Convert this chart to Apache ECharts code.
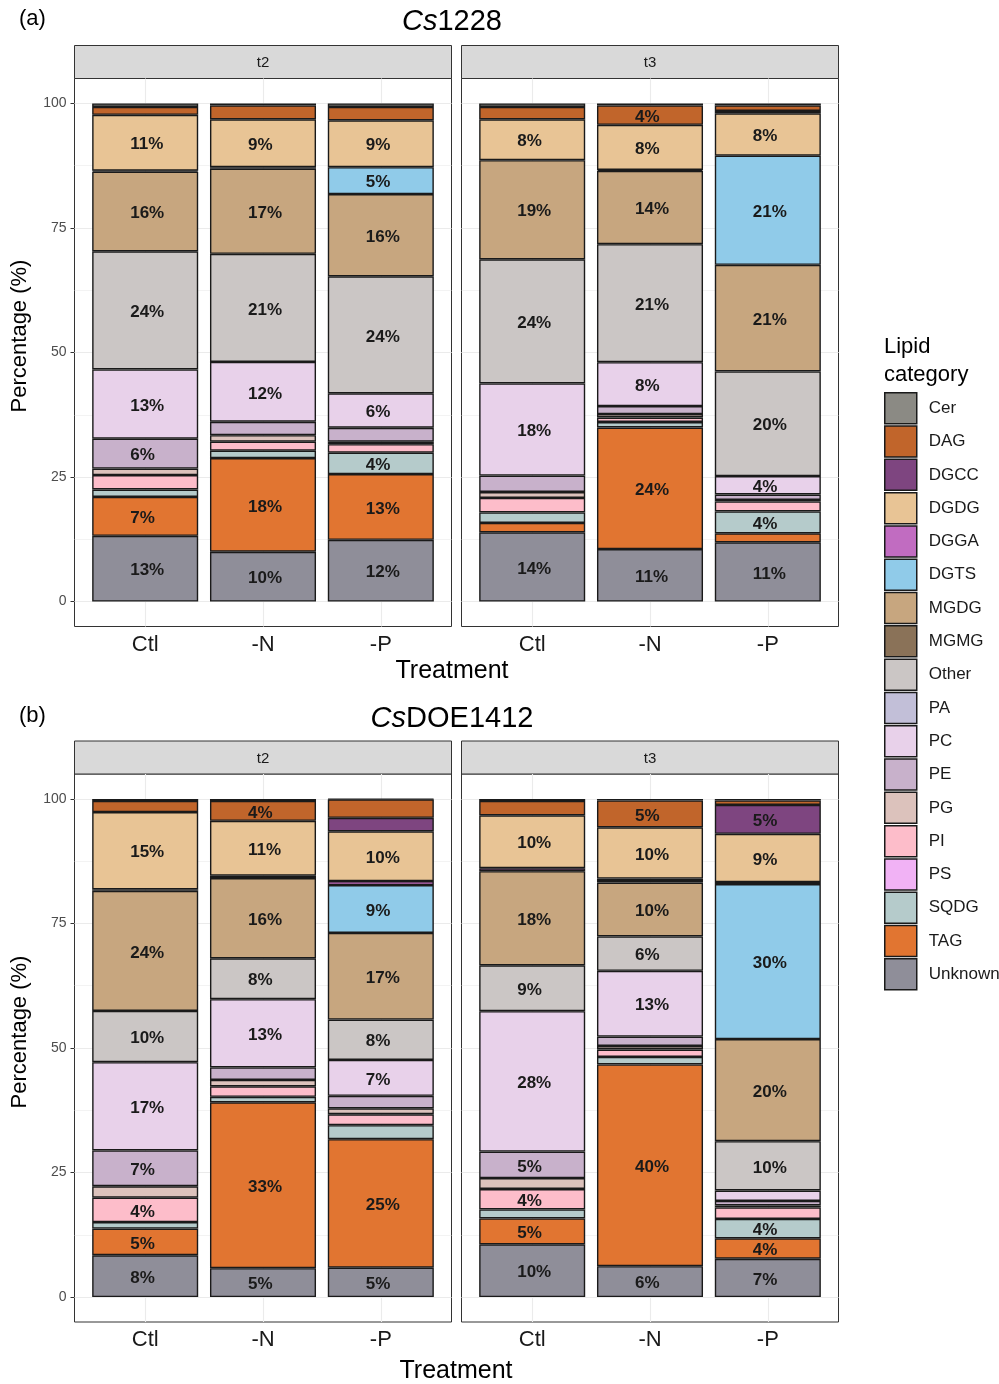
<!DOCTYPE html>
<html><head><meta charset="utf-8">
<script src="https://cdn.jsdelivr.net/npm/echarts@6/dist/echarts.min.js"></script>
<style>html,body{margin:0;padding:0;background:#fff}#c{width:999px;height:1384px}</style>
</head><body><div id="c"></div>
<script>
// ---------------- data ----------------
const categories = ['Cer','DAG','DGCC','DGDG','DGGA','DGTS','MGDG','MGMG','Other','PA','PC','PE','PG','PI','PS','SQDG','TAG','Unknown'];
const catColors = ['#8b8a84','#c1652b','#7e4580','#e8c495','#c16cc1','#90cbe9','#c7a67f','#8a7258','#cbc6c5','#c2bfd8','#e8d1ea','#c8b1cb','#dcc2bc','#fdbdca','#f1b2f5','#b5cbcb','#e17531','#8f8e99'];
const treatments = ['Ctl','-N','-P'];
const yTicks = [0, 25, 50, 75, 100];
const yMinor = [12.5, 37.5, 62.5, 87.5];

// values (%) in category order: Cer, DAG, DGCC, DGDG, DGGA, DGTS, MGDG, MGMG, Other, PA, PC, PE, PG, PI, PS, SQDG, TAG, Unknown
const cs1228_t2_Ctl = [0.7, 1.6, 0, 11.2, 0, 0.2, 16.0, 0, 23.7, 0, 13.9, 6.0, 1.3, 2.9, 0, 1.5, 7.8, 13.2];
const cs1228_t2_N   = [0.4, 2.8, 0, 9.6, 0, 0.3, 17.1, 0, 21.7, 0, 12.0, 2.7, 1.3, 1.8, 0, 1.5, 18.8, 10.0];
const cs1228_t2_P   = [0.7, 2.7, 0, 9.4, 0, 5.4, 16.5, 0, 23.5, 0, 6.9, 2.8, 0.5, 1.7, 0, 4.3, 13.2, 12.4];
const cs1228_t3_Ctl = [0.7, 2.5, 0, 8.2, 0, 0, 19.9, 0, 24.9, 0, 18.5, 3.3, 1.2, 2.9, 0, 2.1, 1.9, 13.9];
const cs1228_t3_N   = [0.4, 3.9, 0, 9.05, 0, 0.2, 14.7, 0, 23.7, 0, 8.8, 1.6, 0.7, 0.9, 0, 1.1, 24.4, 10.55];
const cs1228_t3_P   = [0.4, 1.1, 0.5, 8.5, 0, 21.9, 21.4, 0, 21.0, 0, 3.7, 1.1, 0.3, 2.0, 0, 4.4, 1.8, 11.9];
const doe_t2_Ctl = [0.4, 2.25, 0, 15.5, 0, 0.3, 24.1, 0, 10.3, 0, 17.7, 7.2, 2.3, 4.9, 0, 1.3, 5.35, 8.4];
const doe_t2_N   = [0.4, 4.0, 0, 11.0, 0, 0.5, 16.1, 0, 8.2, 0, 13.7, 2.5, 1.3, 2.1, 0, 1.1, 33.3, 5.8];
const doe_t2_P   = [0.1, 3.7, 2.7, 10.0, 0.8, 9.6, 17.4, 0, 8.1, 0, 7.2, 2.5, 1.2, 2.2, 0, 2.8, 25.8, 5.9];
const doe_t3_Ctl = [0.4, 2.9, 0, 10.6, 0.6, 0, 18.9, 0, 9.2, 0, 28.2, 5.3, 2.2, 4.1, 0, 1.8, 5.2, 10.6];
const doe_t3_N   = [0.3, 5.4, 0, 10.3, 0.3, 0.5, 10.8, 0, 6.9, 0, 13.2, 1.9, 0.7, 1.5, 0, 1.5, 40.5, 6.2];
const doe_t3_P   = [0.3, 0.9, 5.8, 9.7, 0.4, 31.1, 20.5, 0, 9.9, 0, 2.1, 0.9, 0.4, 2.3, 0, 3.9, 4.1, 7.7];

// printed segment labels (%), as shown in the figure
const cs1228_t2_Ctl_lab = {DGDG: 11, MGDG: 16, Other: 24, PC: 13, PE: 6, TAG: 7, Unknown: 13};
const cs1228_t2_N_lab   = {DGDG: 9, MGDG: 17, Other: 21, PC: 12, TAG: 18, Unknown: 10};
const cs1228_t2_P_lab   = {DGDG: 9, DGTS: 5, MGDG: 16, Other: 24, PC: 6, SQDG: 4, TAG: 13, Unknown: 12};
const cs1228_t3_Ctl_lab = {DGDG: 8, MGDG: 19, Other: 24, PC: 18, Unknown: 14};
const cs1228_t3_N_lab   = {DAG: 4, DGDG: 8, MGDG: 14, Other: 21, PC: 8, TAG: 24, Unknown: 11};
const cs1228_t3_P_lab   = {DGDG: 8, DGTS: 21, MGDG: 21, Other: 20, PC: 4, SQDG: 4, Unknown: 11};
const doe_t2_Ctl_lab = {DGDG: 15, MGDG: 24, Other: 10, PC: 17, PE: 7, PI: 4, TAG: 5, Unknown: 8};
const doe_t2_N_lab   = {DAG: 4, DGDG: 11, MGDG: 16, Other: 8, PC: 13, TAG: 33, Unknown: 5};
const doe_t2_P_lab   = {DGDG: 10, DGTS: 9, MGDG: 17, Other: 8, PC: 7, TAG: 25, Unknown: 5};
const doe_t3_Ctl_lab = {DGDG: 10, MGDG: 18, Other: 9, PC: 28, PE: 5, PI: 4, TAG: 5, Unknown: 10};
const doe_t3_N_lab   = {DAG: 5, DGDG: 10, MGDG: 10, Other: 6, PC: 13, TAG: 40, Unknown: 6};
const doe_t3_P_lab   = {DGCC: 5, DGDG: 9, DGTS: 30, MGDG: 20, Other: 10, SQDG: 4, TAG: 4, Unknown: 7};

// ---------------- layout ----------------
const FONT = '"Liberation Sans", Arial, Helvetica, sans-serif';
const COLX = [74.5, 461.5];
const PW = 377, PH = 548, SH = 33;
const ROWS = [{strip: 45.5, top: 78.5}, {strip: 741, top: 774}];

const panels = [
  {row: 0, col: 0, strip: 't2', bars: [cs1228_t2_Ctl, cs1228_t2_N, cs1228_t2_P], labs: [cs1228_t2_Ctl_lab, cs1228_t2_N_lab, cs1228_t2_P_lab]},
  {row: 0, col: 1, strip: 't3', bars: [cs1228_t3_Ctl, cs1228_t3_N, cs1228_t3_P], labs: [cs1228_t3_Ctl_lab, cs1228_t3_N_lab, cs1228_t3_P_lab]},
  {row: 1, col: 0, strip: 't2', bars: [doe_t2_Ctl, doe_t2_N, doe_t2_P], labs: [doe_t2_Ctl_lab, doe_t2_N_lab, doe_t2_P_lab]},
  {row: 1, col: 1, strip: 't3', bars: [doe_t3_Ctl, doe_t3_N, doe_t3_P], labs: [doe_t3_Ctl_lab, doe_t3_N_lab, doe_t3_P_lab]}
];

const barW = 0.9 * PW / 3.2;

const grids = panels.map(p => ({
  left: COLX[p.col], top: ROWS[p.row].top, width: PW, height: PH,
  show: true, backgroundColor: '#ffffff', borderColor: '#333333', borderWidth: 1,
  containLabel: false, outerBoundsMode: 'none'
}));

const xAxes = panels.map((p, i) => ({
  type: 'value', gridIndex: i, min: 0.4, max: 3.6,
  axisLine: {show: false}, splitLine: {show: false},
  axisTick: {show: true, customValues: [1, 2, 3], length: 4, lineStyle: {color: '#333333', width: 1}},
  axisLabel: {show: true, customValues: [1, 2, 3], formatter: v => treatments[Math.round(v) - 1],
              fontSize: 22, color: '#1a1a1a', margin: 7, fontFamily: FONT}
}));

const yAxes = panels.map((p, i) => ({
  type: 'value', gridIndex: i, min: -5, max: 105,
  axisLine: {show: false}, splitLine: {show: false},
  axisTick: {show: p.col === 0, customValues: yTicks, length: 4, lineStyle: {color: '#333333', width: 1}},
  axisLabel: {show: p.col === 0, customValues: yTicks, fontSize: 14, color: '#4d4d4d', margin: 8, fontFamily: FONT}
}));

const series = [];
panels.forEach((p, i) => {
  for (let c = categories.length - 1; c >= 0; c--) {
    const cat = categories[c];
    const s = {
      type: 'bar', name: cat, xAxisIndex: i, yAxisIndex: i, stack: 'panel' + i,
      barWidth: barW, z: 2,
      // value first so that the stacked dimension is the y value
      encode: {x: 1, y: 0},
      itemStyle: {color: catColors[c], borderColor: '#1a1a1a', borderWidth: 1.4},
      emphasis: {disabled: true},
      label: {
        show: true, position: [38, '50%'], offset: [0, 2], align: 'left', verticalAlign: 'middle',
        fontSize: 17, fontWeight: 'bold', color: '#1a1a1a', fontFamily: FONT,
        formatter: prm => { const t = p.labs[prm.dataIndex][cat]; return t == null ? '' : t + '%'; }
      },
      data: p.bars.map((b, k) => [b[c] > 0 ? b[c] : '-', k + 1])
    };
    if (c === categories.length - 1) {
      const ml = [];
      yTicks.forEach(v => ml.push({yAxis: v, lineStyle: {color: '#ebebeb', width: 1.1, type: 'solid'}}));
      yMinor.forEach(v => ml.push({yAxis: v, lineStyle: {color: '#ebebeb', width: 0.6, type: 'solid'}}));
      [1, 2, 3].forEach(v => ml.push({xAxis: v, lineStyle: {color: '#ebebeb', width: 1.1, type: 'solid'}}));
      s.markLine = {silent: true, z: 1, symbol: ['none', 'none'], label: {show: false}, animation: false, data: ml};
    }
    series.push(s);
  }
});

const graphics = [];
panels.forEach(p => {
  graphics.push({type: 'rect', shape: {x: COLX[p.col], y: ROWS[p.row].strip, width: PW, height: SH},
                 style: {fill: '#d9d9d9', stroke: '#333333', lineWidth: 1}, z: 0});
  graphics.push({type: 'text', x: COLX[p.col] + PW / 2, y: ROWS[p.row].strip + SH / 2 + 1,
                 style: {text: p.strip, fontSize: 15, fontFamily: FONT, fill: '#1a1a1a', align: 'center', verticalAlign: 'middle'}, z: 1});
});
[336, 1032].forEach(yc => graphics.push({type: 'text', x: 20, y: yc, rotation: Math.PI / 2,
  style: {text: 'Percentage (%)', fontSize: 22, fontFamily: FONT, fill: '#000000', align: 'center', verticalAlign: 'middle'}}));

const titleStyle = (size) => ({fontSize: size, fontWeight: 'normal', color: '#000000', fontFamily: FONT});
const titles = [
  {text: '(a)', left: 19, top: 8, padding: 0, textStyle: titleStyle(22)},
  {text: '{i|Cs}1228', left: 452, top: 7, padding: 0, textAlign: 'center',
   textStyle: Object.assign(titleStyle(29), {rich: {i: {fontStyle: 'italic', fontSize: 29, fontFamily: FONT, color: '#000'}}})},
  {text: '(b)', left: 19, top: 705, padding: 0, textStyle: titleStyle(22)},
  {text: '{i|Cs}DOE1412', left: 452, top: 704, padding: 0, textAlign: 'center',
   textStyle: Object.assign(titleStyle(29), {rich: {i: {fontStyle: 'italic', fontSize: 29, fontFamily: FONT, color: '#000'}}})},
  {text: 'Treatment', left: 452, top: 659, padding: 0, textAlign: 'center', textStyle: titleStyle(25)},
  {text: 'Treatment', left: 456, top: 1359, padding: 0, textAlign: 'center', textStyle: titleStyle(25)},
  {text: 'Lipid\ncategory', left: 884, top: 333, padding: 0, textStyle: Object.assign(titleStyle(22), {lineHeight: 28})}
];

const chart = echarts.init(document.getElementById('c'), null, {renderer: 'canvas'});
chart.setOption({
  animation: false,
  backgroundColor: '#ffffff',
  textStyle: {fontFamily: FONT},
  title: titles,
  legend: {
    orient: 'vertical', left: 884, top: 392, padding: 0,
    itemWidth: 32, itemHeight: 31, itemGap: 0.8, icon: 'rect',
    data: categories, selectedMode: false,
    itemStyle: {borderColor: '#1a1a1a', borderWidth: 1.5},
    textStyle: {fontSize: 17, color: '#1a1a1a', fontFamily: FONT, padding: [0, 0, 0, 7]}
  },
  grid: grids,
  xAxis: xAxes,
  yAxis: yAxes,
  graphic: graphics,
  series: series
});
</script></body></html>
